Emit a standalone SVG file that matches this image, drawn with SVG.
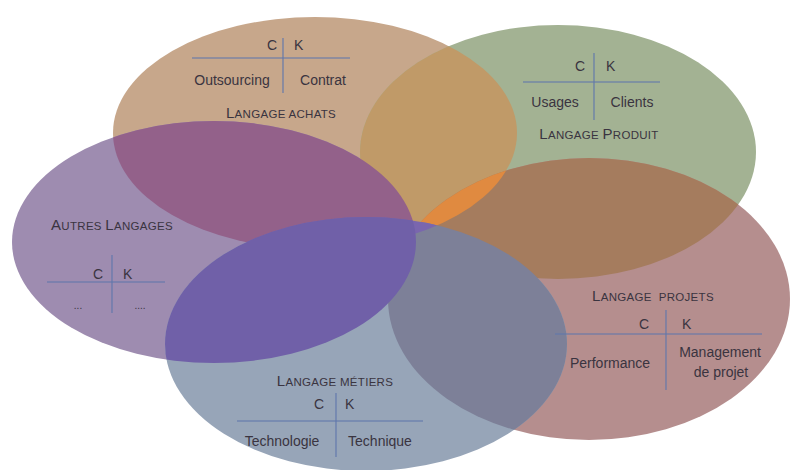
<svg xmlns="http://www.w3.org/2000/svg" xmlns:xlink="http://www.w3.org/1999/xlink" width="791" height="470" viewBox="0 0 791 470">
<style>
text{font-family:"Liberation Sans",Arial,sans-serif;font-size:14px;fill:#3a3440;}
.lbl{font-size:11.5px;letter-spacing:0.3px;}
.big{font-size:15px;}
.m{text-anchor:middle;}
.e{text-anchor:end;}
.ln{stroke:#5f76ad;stroke-opacity:0.7;stroke-width:1.6;fill:none;}
</style>
<defs>
<ellipse id="eA" cx="315" cy="133" rx="202" ry="116"/>
<ellipse id="eG" cx="558" cy="152" rx="198" ry="127"/>
<ellipse id="eP" cx="214" cy="242" rx="202" ry="121"/>
<ellipse id="eR" cx="589" cy="299" rx="201" ry="141"/>
<ellipse id="eM" cx="366" cy="344" rx="201" ry="127"/>
<clipPath id="cA"><use xlink:href="#eA"/></clipPath>
<clipPath id="cG"><use xlink:href="#eG"/></clipPath>
<clipPath id="cP"><use xlink:href="#eP"/></clipPath>
<clipPath id="cR"><use xlink:href="#eR"/></clipPath>
<clipPath id="cM"><use xlink:href="#eM"/></clipPath>
</defs>
<rect width="791" height="470" fill="#ffffff"/>
<g id="shapes">
<use xlink:href="#eA" fill="#c7a78b"/>
<use xlink:href="#eG" fill="#a3b293"/>
<use xlink:href="#eP" fill="#9e8cb0"/>
<use xlink:href="#eR" fill="#b58e8e"/>
<use xlink:href="#eM" fill="#97a5b8"/>
<g clip-path="url(#cG)"><use xlink:href="#eA" fill="#c09a68"/></g>
<g clip-path="url(#cR)"><use xlink:href="#eG" fill="#a57c5e"/></g>
<g clip-path="url(#cR)"><use xlink:href="#eA" fill="#e08a40"/></g>
<g clip-path="url(#cP)"><use xlink:href="#eA" fill="#93618a"/></g>
<g clip-path="url(#cR)"><use xlink:href="#eM" fill="#7d8098"/></g>
<g clip-path="url(#cA)"><use xlink:href="#eM" fill="#7a66ae"/></g>
<g clip-path="url(#cP)"><use xlink:href="#eM" fill="#7060a8"/></g>
</g>
<g id="achats">
<line class="ln" x1="192" y1="58" x2="350" y2="58"/>
<line class="ln" x1="283" y1="38" x2="283" y2="93"/>
<text class="e" x="277" y="50">C</text>
<text x="294" y="50">K</text>
<text class="m" x="232" y="85">Outsourcing</text>
<text class="m" x="323" y="85">Contrat</text>
<text class="m lbl" x="281" y="118"><tspan class="big">L</tspan>ANGAGE ACHATS</text>
</g>
<g id="produit">
<line class="ln" x1="523" y1="82" x2="660" y2="82"/>
<line class="ln" x1="594" y1="53" x2="594" y2="120"/>
<text class="e" x="585" y="71">C</text>
<text x="606" y="71">K</text>
<text class="m" x="555" y="107">Usages</text>
<text class="m" x="632" y="107">Clients</text>
<text class="m lbl" x="599" y="139"><tspan class="big">L</tspan>ANGAGE <tspan class="big">P</tspan>RODUIT</text>
</g>
<g id="autres">
<line class="ln" x1="47" y1="282" x2="165" y2="282"/>
<line class="ln" x1="112" y1="255" x2="112" y2="313"/>
<text class="e" x="103" y="279">C</text>
<text x="123" y="279">K</text>
<text class="m" x="78" y="309" style="font-size:10px">...</text>
<text class="m" x="140" y="309" style="font-size:10px">....</text>
<text class="m lbl" x="112" y="230"><tspan class="big">A</tspan>UTRES <tspan class="big">L</tspan>ANGAGES</text>
</g>
<g id="projets">
<line class="ln" x1="555" y1="334" x2="762" y2="334"/>
<line class="ln" x1="666" y1="310" x2="666" y2="390"/>
<text class="e" x="649" y="329">C</text>
<text x="682" y="329">K</text>
<text class="m" x="610" y="368">Performance</text>
<text class="m" x="720" y="357">Management</text>
<text class="m" x="721" y="377">de projet</text>
<text class="m lbl" x="653" y="301" xml:space="preserve"><tspan class="big">L</tspan>ANGAGE  PROJETS</text>
</g>
<g id="metiers">
<line class="ln" x1="237" y1="421" x2="423" y2="421"/>
<line class="ln" x1="336" y1="393" x2="336" y2="457"/>
<text class="e" x="324" y="409">C</text>
<text x="345" y="409">K</text>
<text class="m" x="282" y="446">Technologie</text>
<text class="m" x="380" y="446">Technique</text>
<text class="m lbl" x="335" y="386"><tspan class="big">L</tspan>ANGAGE MÉTIERS</text>
</g>
</svg>
